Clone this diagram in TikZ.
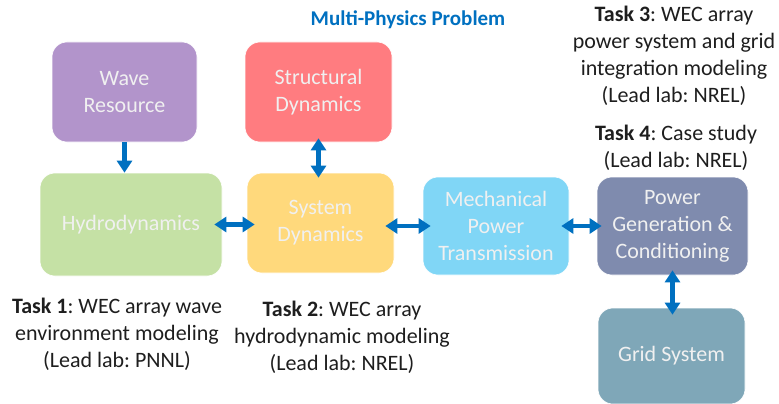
\documentclass[tikz,border=0pt]{standalone}
\usepackage{fontspec}
\setmainfont{Carlito}
\frenchspacing
\usetikzlibrary{arrows.meta}
\definecolor{cwave}{HTML}{B294CB}
\definecolor{cstruct}{HTML}{FF7C80}
\definecolor{chydro}{HTML}{C5E1A5}
\definecolor{csys}{HTML}{FFD97C}
\definecolor{cmech}{HTML}{80D6F6}
\definecolor{cpower}{HTML}{7F8BAE}
\definecolor{cgrid}{HTML}{7FA7B8}
\definecolor{cblue}{HTML}{0070C0}
\definecolor{ctext}{HTML}{1E1E1E}
\tikzset{
  box/.style={rounded corners=15pt, draw=white, line width=0.6pt, text=white!94!black,
    align=center, inner sep=0pt, font=\fontsize{22}{27}\selectfont},
  task/.style={align=center, text=ctext, inner sep=0pt, font=\fontsize{22}{27}\selectfont},
  arr/.style={draw=cblue, line width=4.5pt, -{Triangle[length=12pt,width=15pt]}},
  dbl/.style={draw=cblue, line width=4.5pt, {Triangle[length=12pt,width=15pt]}-{Triangle[length=12pt,width=15pt]}}
}
\begin{document}
\begin{tikzpicture}[x=1pt,y=-1pt]
\useasboundingbox (0,0) rectangle (779,404);
\node[box, fill=cwave, minimum width=145pt, minimum height=100pt] (wave) at (124.5,92) {Wave\\Resource};
\node[box, fill=cstruct, minimum width=147pt, minimum height=100pt] (struct) at (318.5,92) {Structural\\Dynamics};
\node[box, fill=chydro, minimum width=182pt, minimum height=103pt] (hydro) at (131,224.5) {Hydrodynamics};
\node[box, fill=csys, minimum width=147pt, minimum height=100pt] (sys) at (320.5,223) {System\\Dynamics};
\node[box, fill=cmech, minimum width=146pt, minimum height=98pt] (mech) at (496,226) {Mechanical\\Power\\Transmission};
\node[box, fill=cpower, minimum width=151pt, minimum height=98pt] (power) at (672.5,226) {Power\\Generation \&\\Conditioning};
\node[box, fill=cgrid, minimum width=147pt, minimum height=96pt] (grid) at (671.5,356) {Grid System};

\node[text=cblue, inner sep=0pt, font=\fontsize{21}{25}\selectfont\bfseries] (title) at (408,20) {Multi-Physics Problem};
\node[task] (t3) at (674,55.5) {\textbf{Task 3}: WEC array\\power system and grid\\integration modeling\\(Lead lab: NREL)};
\node[task] (t4) at (676,147.5) {\textbf{Task 4}: Case study\\(Lead lab: NREL)};
\node[task] (t1) at (117,334.5) {\textbf{Task 1}: WEC array wave\\environment modeling\\(Lead lab: PNNL)};
\node[task] (t2) at (342,337.5) {\textbf{Task 2}: WEC array\\hydrodynamic modeling\\(Lead lab: NREL)};

\draw[arr] (wave.south) -- (wave.south |- hydro.north);
\draw[dbl, shorten <=-4pt, shorten >=-5pt] (struct.south) -- (struct.south |- sys.north);
\draw[dbl, shorten <=-8pt, shorten >=-8pt] (hydro.east) -- (hydro.east -| sys.west);
\draw[dbl, shorten <=-9pt, shorten >=-8pt] (sys.east |- mech.west) -- (mech.west);
\draw[dbl, shorten <=-8pt, shorten >=-5pt] (mech.east) -- (power.west);
\draw[dbl, shorten <=-5pt, shorten >=-7pt] (power.south) -- (power.south |- grid.north);
\end{tikzpicture}
\end{document}
